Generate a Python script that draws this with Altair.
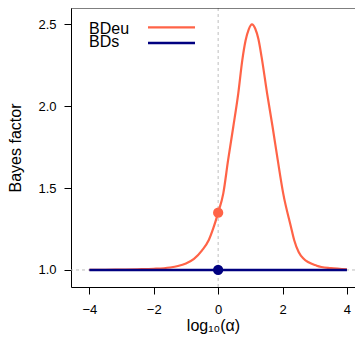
import altair as alt
import pandas as pd

# ---- data ----
series = ["BDeu", "BDs"]
colors = ["#FF6347", "#000080"]

bdeu_x = [-4.0, -3.5, -3.0, -2.5, -2.0, -1.5, -1.25, -1.0, -0.75, -0.5, -0.29, -0.15,
          0.0, 0.16, 0.31, 0.47, 0.625, 0.75, 0.85, 0.95, 1.05, 1.15, 1.25, 1.35,
          1.52, 1.69, 1.85, 2.02, 2.26, 2.36, 2.5, 2.64, 3.06, 3.5, 4.0]
bdeu_y = [1.0, 1.001, 1.002, 1.004, 1.007, 1.015, 1.024, 1.04, 1.068, 1.12, 1.183, 1.255,
          1.35, 1.468, 1.672, 1.875, 2.079, 2.282, 2.40, 2.47, 2.50, 2.475, 2.41, 2.30,
          2.079, 1.875, 1.672, 1.468, 1.264, 1.183, 1.11, 1.071, 1.026, 1.011, 1.004]

bds_x = [-4.0, 4.0]
bds_y = [1.0, 1.0]

point_x = [0.0, 0.0]
point_y = [1.35, 1.0]

vline_x = [0.0]
hline_y = [1.0]

x_ticks = [-4, -2, 0, 2, 4]
y_ticks = [1.0, 1.5, 2.0, 2.5]
x_domain = [-4.57, 4.25]
y_domain = [0.896, 2.600]

W, H = 284, 279
FONT = "Liberation Sans"

lines_df = pd.DataFrame(
    {"x": bdeu_x + bds_x,
     "y": bdeu_y + bds_y,
     "series": [series[0]] * len(bdeu_x) + [series[1]] * len(bds_x)}
)
points_df = pd.DataFrame({"x": point_x, "y": point_y, "series": series})

xs = alt.Scale(domain=x_domain, nice=False, zero=False)
ys = alt.Scale(domain=y_domain, nice=False, zero=False)
cs = alt.Scale(domain=series, range=colors)

x_axis = alt.Axis(values=x_ticks, title="log₁₀(α)", tickSize=7, labelPadding=9,
                  titlePadding=1, grid=False)
y_axis = alt.Axis(values=y_ticks, format=".1f", title="Bayes factor", tickSize=7,
                  labelPadding=8, titlePadding=14, grid=False)

vline = alt.Chart(pd.DataFrame({"x": vline_x})).mark_rule(
    color="#BEBEBE", strokeDash=[3, 3], strokeWidth=1
).encode(x=alt.X("x:Q", scale=xs, axis=x_axis))

hline = alt.Chart(pd.DataFrame({"y": hline_y})).mark_rule(
    color="#BEBEBE", strokeDash=[3, 3], strokeWidth=1
).encode(y=alt.Y("y:Q", scale=ys, axis=y_axis))

bdeu_line = alt.Chart(lines_df).transform_filter(
    alt.datum.series == series[0]
).mark_line(interpolate="monotone", strokeWidth=2.2).encode(
    x=alt.X("x:Q", scale=xs, axis=x_axis),
    y=alt.Y("y:Q", scale=ys, axis=y_axis),
    color=alt.Color("series:N", scale=cs, legend=None),
)

bds_line = alt.Chart(lines_df).transform_filter(
    alt.datum.series == series[1]
).mark_line(strokeWidth=2.6).encode(
    x=alt.X("x:Q", scale=xs, axis=x_axis),
    y=alt.Y("y:Q", scale=ys, axis=y_axis),
    color=alt.Color("series:N", scale=cs, legend=None),
)

pts = alt.Chart(points_df).mark_point(filled=True, size=105, opacity=1, shape="circle").encode(
    x=alt.X("x:Q", scale=xs, axis=x_axis),
    y=alt.Y("y:Q", scale=ys, axis=y_axis),
    color=alt.Color("series:N", scale=cs, legend=None),
)

# top frame line (R box)
top_frame = alt.Chart(pd.DataFrame({"a": [0]})).mark_rule(color="black", strokeWidth=1).encode(
    x=alt.value(0), x2=alt.value(W), y=alt.value(0)
)

# manual legend (labels left, line samples right)
leg_layers = []
leg_text_y = [20.5, 33.9]
leg_line_y = [19.3, 35.0]
leg_widths = [2.2, 2.6]
for i, s in enumerate(series):
    leg_layers.append(
        alt.Chart(pd.DataFrame({"s": [s]})).mark_text(
            align="left", baseline="middle", fontSize=16, font=FONT, color="black"
        ).encode(x=alt.value(18), y=alt.value(leg_text_y[i]), text="s:N")
    )
    leg_layers.append(
        alt.Chart(pd.DataFrame({"s": [s]})).mark_rule(
            color=colors[i], strokeWidth=leg_widths[i]
        ).encode(x=alt.value(77), x2=alt.value(124), y=alt.value(leg_line_y[i]))
    )

chart = alt.layer(
    vline, hline, bdeu_line, bds_line, pts, top_frame, *leg_layers
).properties(
    width=W, height=H,
    autosize=alt.AutoSizeParams(type="none"),
    padding={"left": 63, "top": 0, "right": 0, "bottom": 47},
).configure_view(
    stroke=None
).configure_axis(
    labelFont=FONT, titleFont=FONT, labelFontSize=13, titleFontSize=16,
    titleFontWeight="normal", labelColor="black", titleColor="black",
    tickColor="black", domainColor="black", domainWidth=1, tickWidth=1,
)

chart.save("out.html", embed_options={"renderer": "svg", "actions": False})
